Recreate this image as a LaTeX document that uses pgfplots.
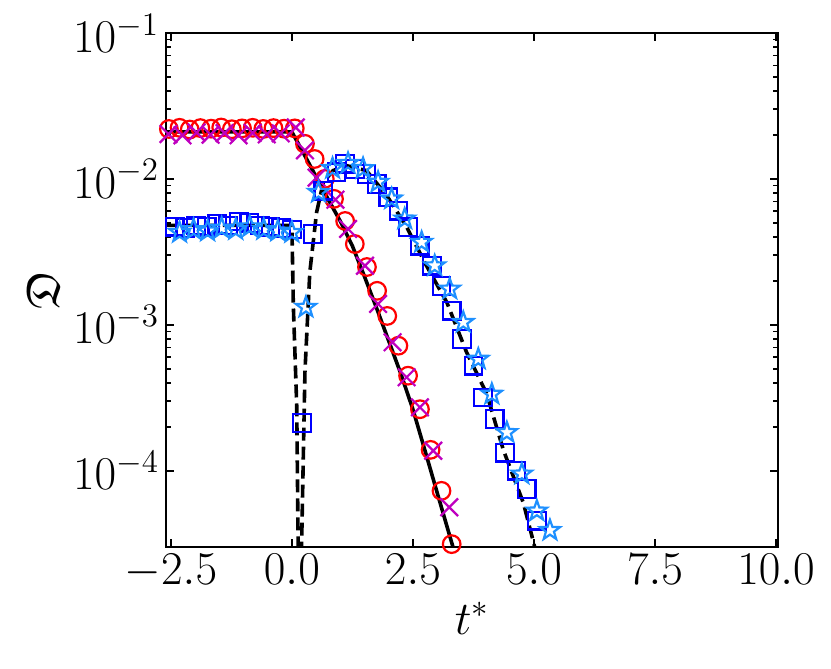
\documentclass[border=0pt]{standalone}
\usepackage{fix-cm}
\usepackage{amssymb}
\usepackage{pgfplots}
\pgfplotsset{compat=1.18}
\usetikzlibrary{plotmarks}
\definecolor{mred}{rgb}{1,0,0}
\definecolor{mmag}{rgb}{0.75,0,0.75}
\definecolor{mblue}{rgb}{0,0,1}
\definecolor{dodger}{rgb}{0.118,0.565,1}
\pgfdeclareplotmark{ostar}{%
  \pgfpathmoveto{\pgfpointpolar{90}{\pgfplotmarksize}}%
  \pgfpathlineto{\pgfpointpolar{126}{0.40\pgfplotmarksize}}%
  \pgfpathlineto{\pgfpointpolar{162}{\pgfplotmarksize}}%
  \pgfpathlineto{\pgfpointpolar{198}{0.40\pgfplotmarksize}}%
  \pgfpathlineto{\pgfpointpolar{234}{\pgfplotmarksize}}%
  \pgfpathlineto{\pgfpointpolar{270}{0.40\pgfplotmarksize}}%
  \pgfpathlineto{\pgfpointpolar{306}{\pgfplotmarksize}}%
  \pgfpathlineto{\pgfpointpolar{342}{0.40\pgfplotmarksize}}%
  \pgfpathlineto{\pgfpointpolar{18}{\pgfplotmarksize}}%
  \pgfpathlineto{\pgfpointpolar{54}{0.40\pgfplotmarksize}}%
  \pgfpathclose\pgfusepathqstroke}
\begin{document}
\begin{tikzpicture}
\begin{axis}[name=ax, scale only axis, width=306pt, height=257pt,
  ymode=log, xmin=-2.6, xmax=10.04, ymin=3e-5, ymax=1e-1,
  xtick={-2.5,0,2.5,5,7.5,10},
  xticklabels={$-2.5$,$0.0$,$2.5$,$5.0$,$7.5$,$10.0$},
  ytick={1e-4,1e-3,1e-2,1e-1},
  tick align=inside, xtick pos=both, ytick pos=both,
  major tick length=4pt, minor tick length=2.3pt,
  every tick/.style={black, line width=0.8pt},
  axis line style={line width=1pt},
  tick label style={font=\fontsize{23.5}{28}\selectfont},
  label style={font=\fontsize{23.5}{28}\selectfont},
  xlabel={$t^*$}, ylabel={$\mathfrak{D}$},
]
% red circles
\addplot[only marks, mark=o, mark size=4.4pt, mred, line width=1.1pt] coordinates {
(-2.54,0.0220) (-2.32,0.0224) (-2.11,0.0218) (-1.89,0.0223) (-1.67,0.0221) (-1.46,0.0225)
(-1.24,0.0219) (-1.03,0.0222) (-0.81,0.0224) (-0.59,0.0220) (-0.38,0.0223) (-0.16,0.0221)
(0.06,0.0222) (0.27,0.0174) (0.47,0.0137) (0.68,0.0100) (0.87,0.0073) (1.10,0.00515)
(1.30,0.00358) (1.55,0.00249) (1.76,0.00171) (1.97,0.00115) (2.20,0.000719) (2.40,0.000448)
(2.645,0.000264) (2.865,0.000139) (3.09,7.28e-5) (3.30,3.14e-5)
};
% magenta crosses
\addplot[only marks, mark=x, mark size=6.2pt, mmag, line width=1.1pt] coordinates {
(-2.55,0.0203) (-2.26,0.0199) (-1.97,0.0208) (-1.68,0.0201) (-1.39,0.0206) (-1.10,0.0199)
(-0.81,0.0207) (-0.52,0.0202) (-0.23,0.0205) (0.08,0.0225) (0.27,0.0157) (0.51,0.0102)
(0.90,0.0072) (1.16,0.00454) (1.51,0.00254) (1.78,0.00139) (2.08,0.000759) (2.37,0.000437)
(2.645,0.000272) (2.92,0.000137) (3.25,5.62e-5)
};
% blue squares
\addplot[only marks, mark=square, mark size=4.4pt, mblue, line width=1.1pt] coordinates {
(-2.64,0.0046) (-2.42,0.0047) (-2.20,0.0046) (-1.98,0.0048) (-1.76,0.0047) (-1.54,0.0049)
(-1.32,0.0048) (-1.10,0.0051) (-0.88,0.0050) (-0.66,0.0048) (-0.44,0.0047) (-0.22,0.0046)
(0.00,0.0045) (0.21,0.000212) (0.43,0.00419) (0.65,0.0083) (0.92,0.0111) (1.10,0.0127)
(1.30,0.0117) (1.54,0.0108) (1.75,0.00924) (1.99,0.00748) (2.20,0.00606) (2.40,0.00467)
(2.64,0.00349) (2.89,0.00254) (3.09,0.00185) (3.30,0.00125) (3.51,0.0008) (3.75,0.000525)
(3.95,0.000318) (4.19,0.000226) (4.40,0.000133) (4.64,0.0001) (4.85,7.49e-5) (5.06,4.54e-5)
};
% light blue stars
\addplot[only marks, mark=ostar, mark size=5.3pt, dodger, line width=1.1pt, mark options={line join=miter}] coordinates {
(-2.61,0.0044) (-2.32,0.0043) (-2.03,0.0045) (-1.74,0.0044) (-1.45,0.0046) (-1.16,0.0045)
(-0.87,0.0047) (-0.58,0.0045) (-0.29,0.0044) (0.00,0.0043) (0.29,0.00132) (0.55,0.0081)
(0.84,0.0118) (1.16,0.0128) (1.47,0.0118) (1.78,0.0095) (2.06,0.0073) (2.33,0.00532)
(2.68,0.00368) (2.95,0.00254) (3.26,0.00176) (3.54,0.00104) (3.85,0.000582) (4.13,0.000335)
(4.44,0.000183) (4.75,9.5e-5) (5.06,5.3e-5) (5.33,3.9e-5)
};
% solid black line
\addplot[black, line width=1.8pt] coordinates {
(-2.6,0.02099) (0,0.02099) (0.25,0.01479) (0.5,0.01035) (0.75,0.00724) (1.0,0.00513)
(1.25,0.00347) (1.5,0.00214) (1.75,0.00130) (2.0,0.000776) (2.25,0.000462) (2.5,0.000263)
(2.75,0.000137) (3.0,7.08e-5) (3.25,3.67e-5) (3.5,1.91e-5)
};
% dashed black line
\addplot[black, line width=1.8pt, dash pattern=on 6.5pt off 3pt] coordinates {
(-2.6,0.0048) (-1.0,0.0048) (0.0,0.0048) (0.03,0.00135) (0.1,0.000279) (0.135,2.0e-5)
(0.19,2.0e-5) (0.27,0.000479) (0.37,0.00229) (0.51,0.00589) (0.65,0.00948) (0.85,0.0114)
(1.13,0.01233) (1.54,0.0114) (1.96,0.00769) (2.37,0.00468) (2.78,0.00254) (3.2,0.001426)
(3.61,0.000646) (4.02,0.000339) (4.37,0.000138) (4.78,6.03e-5) (4.99,3.24e-5) (5.1,2.3e-5)
};
\end{axis}
\pgfresetboundingbox
\path[use as bounding box] ([xshift=-83pt,yshift=-61pt]ax.south west) rectangle ([xshift=26.5pt,yshift=16.5pt]ax.north east);
\end{tikzpicture}
\end{document}
